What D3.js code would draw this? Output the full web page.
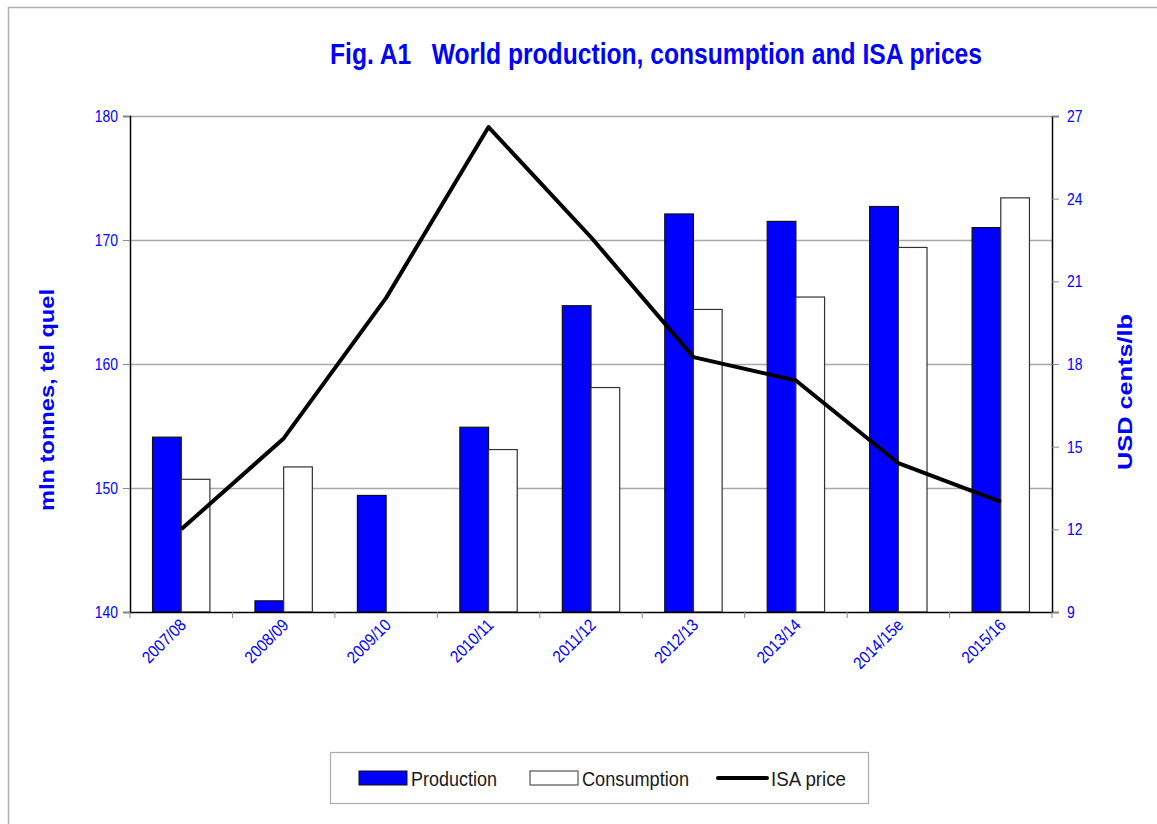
<!DOCTYPE html>
<html><head><meta charset="utf-8">
<script src="https://cdn.jsdelivr.net/npm/d3@7"></script>
<style>body{margin:0;background:#fff;} svg{display:block;}</style>
</head><body>
<script>
const categories = ["2007/08","2008/09","2009/10","2010/11","2011/12","2012/13","2013/14","2014/15e","2015/16"];
const production = [154.1,140.9,149.4,154.9,164.7,172.1,171.5,172.7,171.0];
const consumption = [150.7,151.7,140.0,153.1,158.1,164.4,165.4,169.4,173.4];
const isaPrice = [12.0,15.3,20.4,26.6,22.6,18.25,17.4,14.4,13.0];
const leftTicks = [140,150,160,170,180];
const rightTicks = [9,12,15,18,21,24,27];

const W = 1157, H = 824;
const m = {l:130, r:1052, t:116, b:612};
const blue = "#0000ff";
const font = "'Liberation Sans Narrow','Arial Narrow','Liberation Sans',Arial,sans-serif";

function narrow(sel, f){
  sel.each(function(){
    const L = this.getComputedTextLength();
    d3.select(this).attr("textLength", L*f).attr("lengthAdjust","spacingAndGlyphs");
  });
}

const svg = d3.select("body").append("svg").attr("width", W).attr("height", H);
svg.append("rect").attr("x",8.5).attr("y",7.5).attr("width",1170).attr("height",840)
  .attr("fill","none").attr("stroke","#b0b0b0").attr("stroke-width",1.5);

const x = d3.scaleBand().domain(categories).range([m.l, m.r]).paddingInner(0).paddingOuter(0);
const yL = d3.scaleLinear().domain([140,180]).range([m.b, m.t]);
const yR = d3.scaleLinear().domain([9,27]).range([m.b, m.t]);
const barW = x.bandwidth()*0.28;

// gridlines
svg.append("g").selectAll("line").data(leftTicks.filter(d=>d>140)).join("line")
  .attr("x1",m.l).attr("x2",m.r).attr("y1",d=>yL(d)+0.5).attr("y2",d=>yL(d)+0.5)
  .attr("stroke","#a8a8a8").attr("stroke-width",1.3);

// bars
const g = svg.append("g");
g.selectAll("rect.p").data(production).join("rect").attr("class","p")
  .attr("x",(d,i)=>x(categories[i])+x.bandwidth()/2-barW)
  .attr("y",d=>yL(d)).attr("width",barW).attr("height",d=>m.b-yL(d))
  .attr("fill",blue).attr("stroke","#111").attr("stroke-width",1.2);
g.selectAll("rect.c").data(consumption).join("rect").attr("class","c")
  .attr("x",(d,i)=>x(categories[i])+x.bandwidth()/2)
  .attr("y",d=>yL(d)).attr("width",barW).attr("height",d=>m.b-yL(d))
  .attr("fill","#fff").attr("stroke","#333").attr("stroke-width",1.2);

// line
const line = d3.line().x((d,i)=>x(categories[i])+x.bandwidth()/2).y(d=>yR(d));
svg.append("path").datum(isaPrice).attr("d",line).attr("fill","none")
  .attr("stroke","#000").attr("stroke-width",4).attr("stroke-linejoin","round");

// axes
const axL = svg.append("g").attr("transform",`translate(${m.l},0)`)
  .call(d3.axisLeft(yL).tickValues(leftTicks).tickSize(7).tickPadding(5));
const axR = svg.append("g").attr("transform",`translate(${m.r},0)`)
  .call(d3.axisRight(yR).tickValues(rightTicks).tickSize(7).tickPadding(8));
const axB = svg.append("g").attr("transform",`translate(0,${m.b})`)
  .call(d3.axisBottom(x).tickSize(0).tickFormat(""));
[axL,axR,axB].forEach(a=>{
  a.select(".domain").attr("stroke","#000").attr("stroke-width",1.5);
  a.selectAll(".tick line").attr("stroke","#888");
  a.selectAll("text").attr("fill",blue).style("font-family",font).style("font-size","17px");
  narrow(a.selectAll("text"), 0.82);
});
// category boundary ticks
svg.append("g").selectAll("line").data(categories).join("line")
  .attr("x1",(d)=>x(d)+x.bandwidth()).attr("x2",(d)=>x(d)+x.bandwidth())
  .attr("y1",m.b).attr("y2",m.b+6).attr("stroke","#888");
svg.append("line").attr("x1",m.l).attr("x2",m.l).attr("y1",m.b).attr("y2",m.b+6).attr("stroke","#888");

// x labels
const xl = svg.append("g").selectAll("text").data(categories).join("text")
  .attr("transform",d=>`translate(${x(d)+x.bandwidth()/2+6},${m.b+14}) rotate(-45)`)
  .attr("text-anchor","end").attr("fill",blue).style("font-family",font).style("font-size","17px")
  .text(d=>d);
narrow(xl, 0.88);

// title
svg.append("text").attr("x",656).attr("y",64).attr("text-anchor","middle")
  .attr("fill",blue).style("font-family",font).style("font-weight","bold").style("font-size","29px")
  .style("white-space","pre").attr("xml:space","preserve")
  .attr("textLength",652).attr("lengthAdjust","spacingAndGlyphs")
  .text("Fig. A1   World production, consumption and ISA prices");

// axis titles
svg.append("text").attr("transform","translate(54,400) rotate(-90)").attr("text-anchor","middle")
  .attr("fill",blue).style("font-family","'Liberation Sans',Arial,sans-serif").style("font-weight","bold").style("font-size","20px")
  .attr("textLength",222).attr("lengthAdjust","spacingAndGlyphs")
  .text("mln tonnes, tel quel");
svg.append("text").attr("transform","translate(1132,392) rotate(-90)").attr("text-anchor","middle")
  .attr("fill",blue).style("font-family","'Liberation Sans',Arial,sans-serif").style("font-weight","bold").style("font-size","20px")
  .attr("textLength",156).attr("lengthAdjust","spacingAndGlyphs")
  .text("USD cents/lb");

// legend
const lg = svg.append("g");
lg.append("rect").attr("x",330.5).attr("y",752.5).attr("width",538).attr("height",51)
  .attr("fill","#fff").attr("stroke","#aaa").attr("stroke-width",1.2);
lg.append("rect").attr("x",359).attr("y",771).attr("width",48).attr("height",14).attr("fill",blue).attr("stroke","#111");
lg.append("rect").attr("x",530).attr("y",771).attr("width",48).attr("height",14).attr("fill","#fff").attr("stroke","#333");
lg.append("line").attr("x1",718).attr("x2",767).attr("y1",778).attr("y2",778).attr("stroke","#000").attr("stroke-width",4).attr("stroke-linecap","round");
const legItems = [["Production",411,86],["Consumption",582,107],["ISA price",771,75]];
lg.selectAll("text").data(legItems).join("text")
  .attr("x",d=>d[1]).attr("y",786).attr("textLength",d=>d[2]).attr("lengthAdjust","spacingAndGlyphs")
  .attr("fill","#1a1a1a").style("font-family",font).style("font-size","21px")
  .text(d=>d[0]);
</script>
</body></html>
